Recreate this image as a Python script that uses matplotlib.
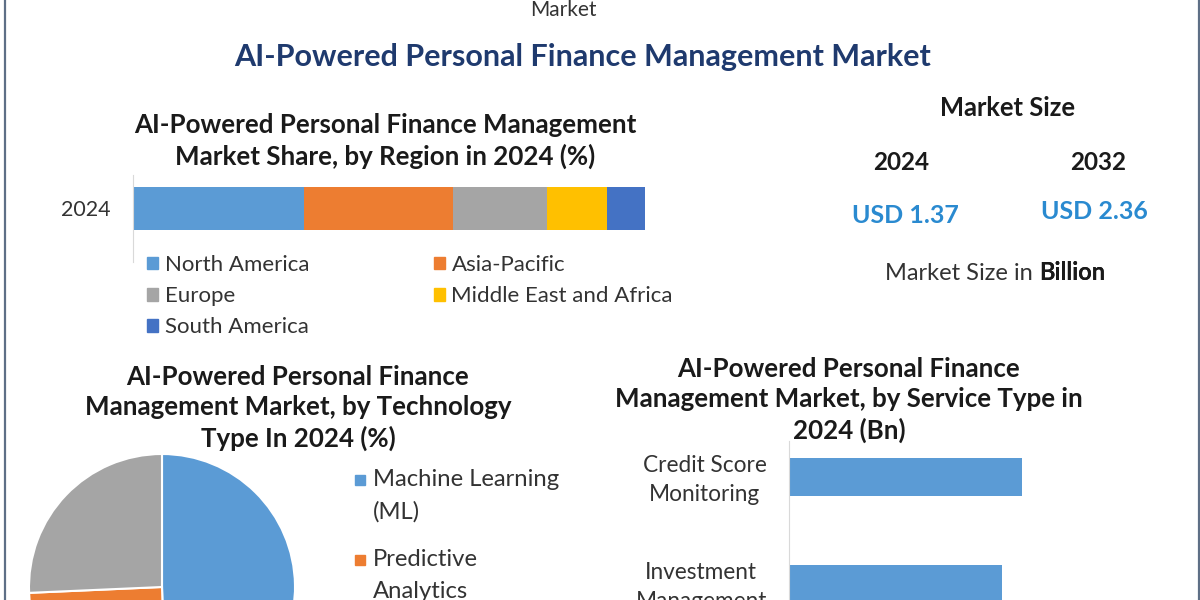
import matplotlib
matplotlib.use("Agg")
import matplotlib.pyplot as plt
from matplotlib.patches import Patch, Rectangle
from matplotlib.lines import Line2D
from matplotlib.transforms import ScaledTranslation

plt.rcParams['font.family'] = ['Lato', 'DejaVu Sans']

# donnees
region_names = ['North America', 'Asia-Pacific', 'Europe', 'Middle East and Africa', 'South America']
region_share = [33.4, 29.1, 18.4, 11.7, 7.4]
region_colors = ['#5B9BD5', '#ED7D31', '#A5A5A5', '#FFC000', '#4472C4']

tech_names = [['Machine Learning', '(ML)'], ['Predictive', 'Analytics'], ['Others']]
tech_share = [49.5, 24.8, 25.7]
tech_colors = ['#5B9BD5', '#ED7D31', '#A5A5A5']

service_names = ['Credit Score\nMonitoring', 'Investment\nManagement']
service_value = [0.41, 0.375]

size_years = ['2024', '2032']
size_values = [1.37, 2.36]

W, H = 1200, 600
TXT = '#1a1a1a'
GREY_TXT = '#333333'


def fx(px):
    return px / W


def fy(py):
    return 1 - py / H


fig = plt.figure(figsize=(12, 6), dpi=100)
fig.patch.set_facecolor('white')

# cadre
for xb in (4.5, 1198.5):
    fig.add_artist(Line2D([fx(xb), fx(xb)], [0, 1], color='#5E6F86', lw=1.6))

fig.text(fx(563), fy(10), 'Market', ha='center', va='center', fontsize=15, color=GREY_TXT)
fig.text(fx(583), fy(57), 'AI-Powered Personal Finance Management Market',
         ha='center', va='center', fontsize=22, fontweight='bold', color='#1F3A6E')

# --- part de marche par region ---
fig.text(fx(385), fy(141), 'AI-Powered Personal Finance Management\nMarket Share, by Region in 2024 (%)',
         ha='center', va='center', fontsize=18.6, fontweight='bold', color=TXT,
         linespacing=1.29)

ax1 = fig.add_axes([fx(133), fy(262), fx(512), 87 / H])
left = 0
for name, val, col in zip(region_names, region_share, region_colors):
    ax1.barh(0, val, left=left, height=43 / 87, color=col, label=name)
    left += val
ax1.set_xlim(0, 100)
ax1.set_ylim(-0.615, 0.385)
ax1.set_yticks([0])
ax1.set_yticklabels(['2024'], fontsize=15.4, color=GREY_TXT)
ax1.tick_params(axis='y', length=0, pad=16.5)
ax1.set_xticks([])
for s in ['top', 'right', 'bottom']:
    ax1.spines[s].set_visible(False)
ax1.spines['left'].set_color('#D9D9D9')

handles = [Patch(color=c) for c in region_colors]
order = [0, 2, 4, 1, 3]
fig.legend([handles[i] for i in order], [region_names[i] for i in order],
           ncol=2, loc='upper left', bbox_to_anchor=(fx(147), fy(255)),
           frameon=False, fontsize=16, handlelength=0.5, handleheight=0.5,
           handletextpad=0.3, columnspacing=5.6, labelspacing=0.5,
           borderpad=0, borderaxespad=0, labelcolor=GREY_TXT)

# --- taille du marche ---
fig.text(fx(1008), fy(108), 'Market Size', ha='center', va='center',
         fontsize=18.4, fontweight='bold', color=TXT)
for xc, yr, yv, val in zip([901, 1098], size_years, [215, 212], size_values):
    fig.text(fx(xc), fy(162), yr, ha='center', va='center',
             fontsize=17.5, fontweight='bold', color=TXT)
    fig.text(fx(xc + 4 if yr == '2024' else xc - 4), fy(yv), f'USD {val:.2f}',
             ha='center', va='center', fontsize=18, color='#2A8AD0', fontweight='bold')
t1 = fig.text(fx(885), fy(274), 'Market Size in ', ha='left', va='center',
              fontsize=17, color=GREY_TXT)
fig.add_artist(plt.annotate('Billion', xy=(1, 0), xycoords=t1, ha='left', va='bottom',
                            fontsize=17, fontweight='bold', color=TXT))

# --- camembert technologie ---
fig.text(fx(298), fy(408), 'AI-Powered Personal Finance\nManagement Market, by Technology\nType In 2024 (%)',
         ha='center', va='center', fontsize=18.6, fontweight='bold', color=TXT,
         linespacing=1.29)

ax2 = fig.add_axes([fx(29), fy(720), 266 / W, 266 / H])
ax2.pie(tech_share, colors=tech_colors, startangle=90, counterclock=False,
        wedgeprops=dict(edgecolor='white', linewidth=1.5))
ax2.set_xlim(-1, 1)
ax2.set_ylim(-1, 1)

# legende du camembert (la 3e entree tombe hors de l'image, comme sur l'original)
y0 = 480
for lines, col in zip(tech_names, tech_colors):
    fig.add_artist(Rectangle((fx(355), fy(y0 + 5)), 10 / W, 10 / H, color=col,
                             transform=fig.transFigure))
    for k, line in enumerate(lines):
        fig.text(fx(373), fy(y0 + 32 * k), line, ha='left', va='center',
                 fontsize=17.2, color=GREY_TXT)
    y0 += 80

# --- barres type de service ---
fig.text(fx(849), fy(400), 'AI-Powered Personal Finance\nManagement Market, by Service Type in\n2024 (Bn)',
         ha='center', va='center', fontsize=18.6, fontweight='bold', color=TXT,
         linespacing=1.29)

ax3 = fig.add_axes([fx(789), fy(638), 284 / W, 197 / H])
ax3.barh(range(len(service_names)), service_value, height=38 / 107, color='#5B9BD5')
ax3.set_xlim(0, 0.5)
ax3.set_ylim(1.5, -0.34)
ax3.set_yticks(range(len(service_names)))
ax3.set_yticklabels(service_names, fontsize=16.3, color=GREY_TXT,
                    multialignment='center', linespacing=1.45)
ax3.tick_params(axis='y', length=0, pad=16)
shift = ScaledTranslation(0, 3 / 100, fig.dpi_scale_trans)
for lab in ax3.get_yticklabels():
    lab.set_transform(lab.get_transform() + shift)
ax3.set_xticks([])
for s in ['top', 'right', 'bottom']:
    ax3.spines[s].set_visible(False)
ax3.spines['left'].set_color('#D9D9D9')

fig.savefig('out.png', dpi=100)
